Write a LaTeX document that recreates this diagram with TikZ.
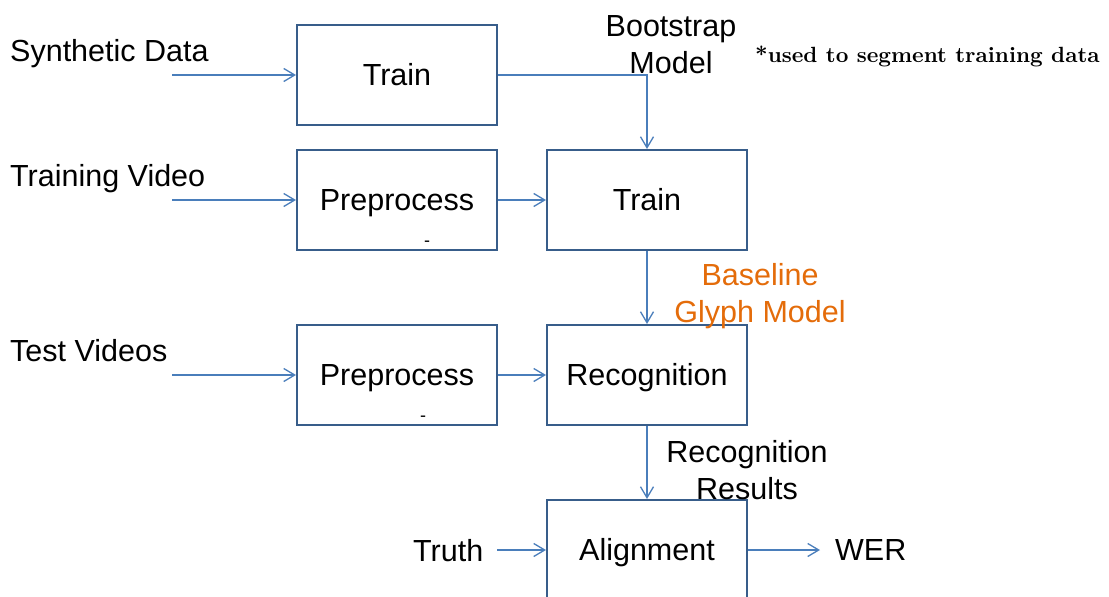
\documentclass[tikz,border=0pt]{standalone}
\usepackage{fontspec}
\setmainfont{Liberation Sans}
\newfontfamily\notefont[Extension=.otf,BoldFont=lmroman10-bold]{lmroman10-regular}
\usetikzlibrary{arrows.meta}
\definecolor{boxblue}{RGB}{56,93,138}
\definecolor{lineblue}{RGB}{74,126,187}
\definecolor{glyphorange}{RGB}{228,108,10}
\tikzset{
  x=1pt, y=-1pt,
  lbl/.style={font=\fontsize{30.5}{37}\selectfont, inner sep=0pt},
  procbox/.style={draw=boxblue, line width=2pt, minimum width=200pt, minimum height=100pt,
    inner sep=0pt, font=\fontsize{30.5}{37}\selectfont, text height=21.8pt, text depth=0pt},
  arr/.style={draw=lineblue, line width=1.3pt, -{Straight Barb[length=11pt,width=13pt,line width=1.3pt]}},
  tick/.style={font=\fontsize{18}{20}\selectfont, inner sep=0pt}
}
\begin{document}
\begin{tikzpicture}
\clip (0,0) rectangle (1109,597);
\fill[white] (0,0) rectangle (1109,597);
% boxes
\node[procbox] (t1) at (397,75) {Train};
\node[procbox] (p1) at (397,200) {Preprocess};
\node[procbox] (t2) at (647,200) {Train};
\node[procbox] (p2) at (397,375) {Preprocess};
\node[procbox] (rec) at (647,375) {Recognition};
\node[procbox] (al) at (647,550) {Alignment};
% small marks
\node[tick] (d1) at (427,244) {-};
\node[tick] (d2) at (423,419) {-};
% input labels
\node[lbl, anchor=base west] (syn) at (10,61) {Synthetic Data};
\node[lbl, anchor=base west] (tv) at (10,186) {Training Video};
\node[lbl, anchor=base west] (tst) at (10,361) {Test Videos};
\node[lbl, anchor=base west] (truth) at (413,561) {Truth};
\node[lbl, anchor=base west] (wer) at (835,560) {WER};
\node[lbl, align=center] (boot) at (671,45) {Bootstrap\\Model};
\node[lbl, align=center, text=glyphorange] (base) at (760,296) {Baseline\\Glyph Model};
\node[lbl, align=center] (rr) at (747,470) {Recognition\\Results};
\node[anchor=base west, inner sep=0pt, font=\notefont\bfseries\fontsize{22}{26}\selectfont] (note) at (755,62) {*used to segment training data};
% arrow start points
\coordinate (s1) at (172,75);
\coordinate (s2) at (172,200);
\coordinate (s3) at (172,375);
\coordinate (tr) at (497,550);
\coordinate (w) at (820,550);
% connectors
\draw[arr] (s1) -- (t1.west);
\draw[arr] (s2) -- (p1.west);
\draw[arr] (s3) -- (p2.west);
\draw[arr] (t1.east) -| (t2.north);
\draw[arr] (p1.east) -- (t2.west);
\draw[arr] (t2.south) -- (rec.north);
\draw[arr] (p2.east) -- (rec.west);
\draw[arr] (rec.south) -- (al.north);
\draw[arr] (tr) -- (al.west);
\draw[arr] (al.east) -- (w);
\end{tikzpicture}
\end{document}
